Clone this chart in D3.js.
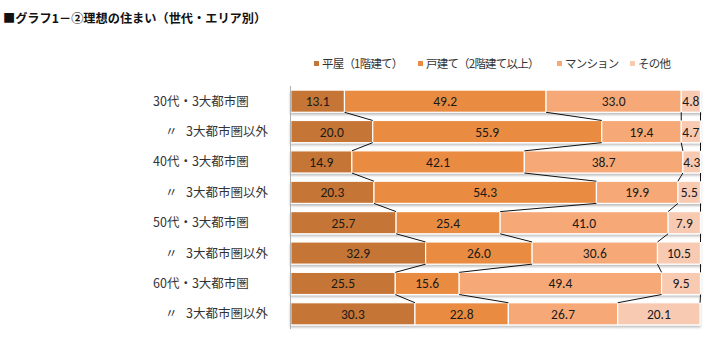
<!DOCTYPE html>
<html><head><meta charset="utf-8">
<script src="https://cdn.jsdelivr.net/npm/d3@7/dist/d3.min.js"></script>
<style>body{margin:0;background:#fff;}svg{display:block;}</style>
</head><body><svg id="c" width="720" height="346"></svg>
<script>
const title = "■グラフ1－②理想の住まい（世代・エリア別）";
const categories = ["30代・3大都市圏","〃3大都市圏以外","40代・3大都市圏","〃3大都市圏以外","50代・3大都市圏","〃3大都市圏以外","60代・3大都市圏","〃3大都市圏以外"];
const seriesNames = ["平屋（1階建て）","戸建て（2階建て以上）","マンション","その他"];
const hiraya   = [13.1, 20.0, 14.9, 20.3, 25.7, 32.9, 25.5, 30.3];
const kodate   = [49.2, 55.9, 42.1, 54.3, 25.4, 26.0, 15.6, 22.8];
const mansion  = [33.0, 19.4, 38.7, 19.9, 41.0, 30.6, 49.4, 26.7];
const sonota   = [4.8, 4.7, 4.3, 5.5, 7.9, 10.5, 9.5, 20.1];
const colors = ["#c57535","#e98b40","#f6a977","#f9cab2"];

const series = [hiraya, kodate, mansion, sonota];
const svg = d3.select("#c");
const x = d3.scaleLinear().domain([0,100]).range([290.8,700.5]);
const y = d3.scaleBand().domain(d3.range(categories.length)).range([86,329]).paddingInner(0.27).paddingOuter(0.135);

const defs = svg.append("defs");
const f = defs.append("filter").attr("id","sh").attr("x","-5%").attr("y","-30%").attr("width","110%").attr("height","180%");
f.append("feDropShadow").attr("dx",0).attr("dy",2).attr("stdDeviation",1.2).attr("flood-color","#000").attr("flood-opacity",0.25);

// title
svg.append("text").attr("x",3).attr("y",23).text(title)
  .attr("font-family","'Noto Sans CJK JP',sans-serif").attr("font-size",12.2).attr("font-weight","bold").attr("fill","#111");

// legend
const legX = [314, 418, 557, 630];
seriesNames.forEach((n,i)=>{
  svg.append("rect").attr("x",legX[i]).attr("y",61).attr("width",5).attr("height",5).attr("fill",colors[i]);
  svg.append("text").attr("x",legX[i]+8).attr("y",68).text(n)
    .attr("font-family","'Noto Sans CJK JP',sans-serif").attr("font-size",11.5).attr("fill","#333")
    .attr("letter-spacing",-0.8);
});

// stacked data
const rows = categories.map((c,i)=>{ let acc=0; return series.map((s,k)=>{ const v=s[i]; const seg={i,k,x0:acc,x1:Math.min(100,acc+v),v}; acc+=v; return seg;}); });

// bars with shadow
const g = svg.append("g");
rows.forEach(r=>{
  const bg = g.append("g").attr("filter","url(#sh)");
  bg.selectAll("rect").data(r).join("rect")
    .attr("x",d=>x(d.x0)).attr("y",d=>y(d.i)).attr("width",d=>x(d.x1)-x(d.x0)).attr("height",y.bandwidth())
    .attr("fill",d=>colors[d.k]).attr("stroke","#fff").attr("stroke-width",1.2);
});

// series lines
const lines = svg.append("g").attr("stroke","#111").attr("stroke-width",1).attr("fill","none");
for(let i=0;i<rows.length-1;i++){
  for(let k=0;k<4;k++){
    const a = rows[i][k].x1, b = rows[i+1][k].x1;
    lines.append("line").attr("x1",x(a)).attr("y1",y(i)+y.bandwidth()).attr("x2",x(b)).attr("y2",y(i+1));
  }
}

// value labels
rows.forEach(r=>{
  svg.selectAll(null).data(r).join("text")
    .attr("x",d=>(x(d.x0)+x(d.x1))/2).attr("y",d=>y(d.i)+y.bandwidth()/2+5)
    .attr("text-anchor","middle").text(d=>d.v.toFixed(1))
    .attr("font-family","Carlito,'Liberation Sans Narrow','Roboto Condensed','DejaVu Sans Condensed',sans-serif")
    .attr("font-size",13.5).attr("fill","#1a1a1a");
});

// axis line
svg.append("line").attr("x1",290.5).attr("x2",290.5).attr("y1",86).attr("y2",329).attr("stroke","#b0b0b0").attr("stroke-width",1);

// category labels
categories.forEach((c,i)=>{
  const t = svg.append("text").attr("y",y(i)+y.bandwidth()/2+4.5)
    .attr("font-family","'Noto Sans CJK JP',sans-serif").attr("font-size",12.5).attr("fill","#333");
  if(c.startsWith("〃")){
    t.append("tspan").attr("x",165).text("〃");
    t.append("tspan").attr("x",186).text(c.slice(1));
  } else {
    t.append("tspan").attr("x",153).text(c);
  }
});
</script></body></html>
